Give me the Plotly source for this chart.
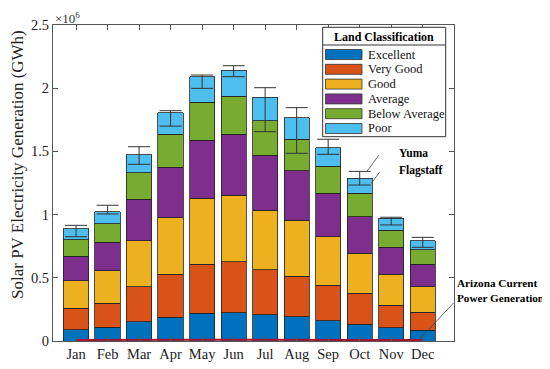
import plotly.graph_objects as go

months = ["Jan", "Feb", "Mar", "Apr", "May", "Jun", "Jul", "Aug", "Sep", "Oct", "Nov", "Dec"]

# Monthly generation by land class (units of 10^6 GWh, stacked segments)
excellent = [0.089, 0.108, 0.153, 0.187, 0.219, 0.224, 0.206, 0.192, 0.161, 0.134, 0.105, 0.087]
very_good = [0.171, 0.190, 0.277, 0.341, 0.390, 0.403, 0.356, 0.322, 0.282, 0.243, 0.178, 0.142]
good      = [0.217, 0.258, 0.364, 0.448, 0.520, 0.528, 0.474, 0.443, 0.382, 0.317, 0.245, 0.201]
average   = [0.195, 0.227, 0.327, 0.398, 0.461, 0.480, 0.433, 0.390, 0.343, 0.289, 0.213, 0.177]
below_avg = [0.128, 0.145, 0.211, 0.261, 0.298, 0.303, 0.274, 0.249, 0.216, 0.185, 0.137, 0.113]
poor      = [0.089, 0.095, 0.142, 0.171, 0.203, 0.206, 0.185, 0.171, 0.145, 0.119, 0.093, 0.074]

# Range across locations (Yuma = high, Flagstaff = low), units of 10^6 GWh
yuma      = [0.915, 1.074, 1.537, 1.822, 2.104, 2.178, 2.004, 1.846, 1.596, 1.342, 0.979, 0.820]
flagstaff = [0.825, 1.005, 1.398, 1.700, 1.999, 2.091, 1.656, 1.485, 1.477, 1.234, 0.918, 0.741]

# Arizona current power generation (units of 10^6 GWh)
arizona = [0.0085, 0.0076, 0.0080, 0.0078, 0.0090, 0.0105, 0.0115, 0.0113, 0.0098, 0.0085, 0.0078, 0.0088]

class_names = ["Excellent", "Very Good", "Good", "Average", "Below Average", "Poor"]
class_colors = ["#0072BD", "#D95319", "#EDB120", "#7E2F8E", "#77AC30", "#4DBEEE"]
series = [excellent, very_good, good, average, below_avg, poor]

y_ticks = [0, 0.5, 1, 1.5, 2, 2.5]
y_ticktext = ["0", "0.5", "1", "1.5", "2", "2.5"]

FONT = "Liberation Serif"

fig = go.Figure()
for name, col, vals in zip(class_names, class_colors, series):
    fig.add_trace(go.Bar(x=months, y=vals, name=name, marker=dict(color=col, line=dict(color="#222222", width=0.8))))

mid = [(h + l) / 2 for h, l in zip(yuma, flagstaff)]
half = [(h - l) / 2 for h, l in zip(yuma, flagstaff)]
fig.add_trace(go.Scatter(x=months, y=mid, mode="markers", marker=dict(size=1, opacity=0),
                         error_y=dict(type="data", array=half, symmetric=True, color="#333333", thickness=1, width=11),
                         showlegend=False))
fig.add_trace(go.Scatter(x=months, y=arizona, mode="lines", line=dict(color="#A2142F", width=2), showlegend=False))

# The page body has an 8px margin, so the figure is drawn 8px in from the window edge.
OFF = 8
W, H = 550 - OFF, 369 - OFF
L_s, R_s, T_s, B_s = 53, 454, 25, 341   # plot area in window pixels
pw, ph = R_s - L_s, B_s - T_s

def px(xp):
    return (xp - L_s) / pw

def py(yp):
    return (B_s - yp) / ph

shapes = []
annotations = []

# Legend box
shapes.append(dict(type="rect", xref="paper", yref="paper", x0=px(322.7), x1=px(445.7), y0=py(136.7), y1=py(27.3),
                   fillcolor="white", line=dict(color="#333333", width=1), layer="above"))
shapes.append(dict(type="line", xref="paper", yref="paper", x0=px(322.7), x1=px(445.7), y0=py(45), y1=py(45),
                   line=dict(color="#333333", width=1), layer="above"))
annotations.append(dict(xref="paper", yref="paper", x=px(384.2), y=py(37), text="<b>Land Classification</b>",
                        showarrow=False, xanchor="center", yanchor="middle", font=dict(family=FONT, size=12, color="black")))
for i, (name, col) in enumerate(zip(class_names, class_colors)):
    yc = 54.5 + i * 14.8
    shapes.append(dict(type="rect", xref="paper", yref="paper", x0=px(325.5), x1=px(362), y0=py(yc + 5), y1=py(yc - 5),
                       fillcolor=col, line=dict(color="#333333", width=0.8), layer="above"))
    annotations.append(dict(xref="paper", yref="paper", x=px(365.5), y=py(yc), text=name, showarrow=False,
                            xanchor="left", yanchor="middle", font=dict(family=FONT, size=12.5, color="#111111")))

# Callout lines
shapes.append(dict(type="line", xref="x", yref="y", x0=9.61, y0=1.471, x1=9.23, y1=yuma[9], line=dict(color="#444444", width=0.8)))
shapes.append(dict(type="line", xref="x", yref="y", x0=9.64, y0=1.339, x1=9.37, y1=flagstaff[9] + 0.014, line=dict(color="#444444", width=0.8)))
shapes.append(dict(type="line", xref="x", yref="y", x0=11.98, y0=0.301, x1=10.88, y1=arizona[11], line=dict(color="#444444", width=0.8)))

annotations.append(dict(xref="paper", yref="paper", x=px(396.5), y=py(152.7), text="<b>Yuma</b>", showarrow=False,
                        xanchor="left", yanchor="middle", font=dict(family=FONT, size=11.5, color="black")))
annotations.append(dict(xref="paper", yref="paper", x=px(396.5), y=py(170.7), text="<b>Flagstaff</b>", showarrow=False,
                        xanchor="left", yanchor="middle", font=dict(family=FONT, size=11.5, color="black")))
annotations.append(dict(xref="paper", yref="paper", x=px(454.5), y=py(290.5), text="<b>Arizona Current<br>Power Generation</b>",
                        showarrow=False, xanchor="left", yanchor="middle", align="left",
                        font=dict(family=FONT, size=11.2, color="black")))

# Exponent label
annotations.append(dict(xref="paper", yref="paper", x=px(53), y=py(18), text="×10<sup>6</sup>", showarrow=False,
                        xanchor="left", yanchor="middle", font=dict(family=FONT, size=13, color="#333333")))
# Y axis title
annotations.append(dict(xref="paper", yref="paper", x=px(17), y=py(165), text="Solar PV Electricity Generation (GWh)",
                        showarrow=False, textangle=-90, xanchor="center", yanchor="middle",
                        font=dict(family=FONT, size=17, color="#222222")))

fig.update_layout(
    width=W, height=H,
    margin=dict(l=L_s - OFF, r=550 - R_s, t=T_s - OFF, b=369 - B_s, autoexpand=False),
    barmode="stack", bargap=0.2,
    showlegend=False,
    plot_bgcolor="white", paper_bgcolor="white",
    font=dict(family=FONT, size=14, color="#222222"),
    shapes=shapes, annotations=annotations,
    xaxis=dict(automargin=False, showline=True, linecolor="#555555", linewidth=1, mirror="allticks", ticks="inside", ticklen=5,
               tickcolor="#555555", showgrid=False, tickfont=dict(family=FONT, size=14.5, color="#222222")),
    yaxis=dict(automargin=False, range=[0, 2.5], tickvals=y_ticks, ticktext=y_ticktext, showline=True, linecolor="#555555", linewidth=1,
               mirror="allticks", ticks="inside", ticklen=5, tickcolor="#555555", showgrid=False, zeroline=False,
               tickfont=dict(family=FONT, size=14.5, color="#222222")),
)

fig.write_html("out.html")
